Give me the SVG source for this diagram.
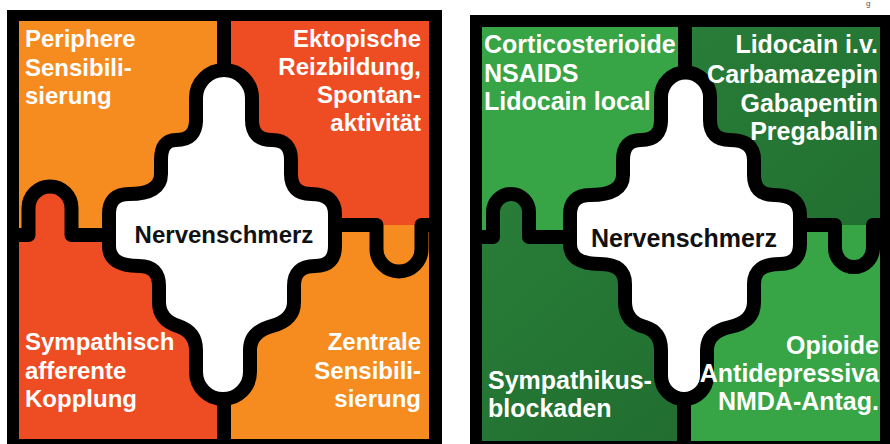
<svg xmlns="http://www.w3.org/2000/svg" width="890" height="444" viewBox="0 0 890 444">
  <style>
    .frame{fill:#000}
    .orange{fill:#F68B1F}
    .red{fill:#EE4C23}
    .lg{fill:#37A546}
    .dg{fill:url(#dgGrad)}
    .line{fill:none;stroke:#000;stroke-width:14;stroke-linejoin:round;stroke-linecap:butt}
    .core{fill:#fff;stroke:#000;stroke-width:14;stroke-linejoin:round}
    .t{font-family:"Liberation Sans",Arial,Helvetica,sans-serif;font-weight:bold;fill:#fff}
    .s24{font-size:24px}
    .s25{font-size:25px}
    .e{text-anchor:end}
    .c{fill:#111;text-anchor:middle}
  </style>
  <defs>
    <linearGradient id="dgGrad" gradientUnits="userSpaceOnUse" x1="560" y1="60" x2="880" y2="430">
      <stop offset="0" stop-color="#2A8039"/>
      <stop offset="1" stop-color="#1E682D"/>
    </linearGradient>
  </defs>
  <rect width="890" height="444" fill="#fff"/>
  <text x="866" y="6" font-family="Liberation Sans, Arial, sans-serif" font-size="8" fill="#555">g</text>

  <!-- LEFT PUZZLE -->
  <g id="left-puzzle">
    <rect class="frame" x="7" y="10" width="435" height="434"/>
    <g id="l-tl"><rect class="orange" x="19" y="21" width="205" height="214"/></g>
    <g id="l-bl"><rect class="red" x="19" y="235" width="205" height="204"/>
      <path class="red" d="M28.5 236 L28.5 208 A21.5 21.5 0 0 1 71.5 208 L71.5 236 Z"/></g>
    <g id="l-tr"><rect class="red" x="224" y="21" width="205" height="204"/>
      <path class="red" d="M376.5 224 L376.5 249 A22.5 22.5 0 0 0 421.5 249 L421.5 224 Z"/></g>
    <g id="l-br"><rect class="orange" x="224" y="225" width="205" height="214"/></g>
    <g id="l-borders">
      <path class="line" d="M224 15 L224 72"/>
      <path class="line" d="M224 396 L224 444"/>
      <path class="line" d="M19 235 L28.5 235 L28.5 208 A21.5 21.5 0 0 1 71.5 208 L71.5 235 L112 235"/>
      <path class="line" d="M332 225 L376.5 225 L376.5 249 A22.5 22.5 0 0 0 421.5 249 L421.5 225 L429 225"/>
    </g>
    <g id="l-center">
      <path class="core" d="M196 122 L196 98 A28 28 0 0 1 252 98 L252 120 Q252 140 272 140 Q291 140 291 160 L291 174 Q291 194 311 194 Q335 194 335 214 L335 246 Q335 266 315 266 Q294 266 294 286 L294 302 Q294 320 272 326 Q250 332 250 350 L250 372 A27 27 0 0 1 196 372 L196 350 Q196 332 178 326 Q159 320 159 302 L159 286 Q159 266 139 266 Q109 266 109 246 L109 214 Q109 194 129 194 Q161 194 161 174 L161 160 Q161 140 176 140 Q196 140 196 120 Z"/>
      <text class="t c s24" x="224" y="243">Nervenschmerz</text>
    </g>
    <g id="l-texts" class="t s24">
      <text x="25" y="47">Periphere</text>
      <text x="25" y="75.5">Sensibili-</text>
      <text x="25" y="104">sierung</text>
      <text class="e" x="421" y="47">Ektopische</text>
      <text class="e" x="421" y="75">Reizbildung,</text>
      <text class="e" x="421" y="103">Spontan-</text>
      <text class="e" x="421" y="131">aktivität</text>
      <text x="25" y="350">Sympathisch</text>
      <text x="25" y="379">afferente</text>
      <text x="25" y="407">Kopplung</text>
      <text class="e" x="421" y="350">Zentrale</text>
      <text class="e" x="421" y="379">Sensibili-</text>
      <text class="e" x="421" y="407">sierung</text>
    </g>
  </g>

  <!-- RIGHT PUZZLE -->
  <g id="right-puzzle">
    <rect class="frame" x="470" y="15" width="420" height="429"/>
    <g id="r-tl"><rect class="lg" x="482" y="27" width="203" height="210"/></g>
    <g id="r-bl"><rect class="dg" x="482" y="237" width="203" height="204"/>
      <path class="dg" d="M493 238 L493 212 A18 18 0 0 1 529 212 L529 238 Z"/></g>
    <g id="r-tr"><rect class="dg" x="685" y="27" width="195" height="198"/>
      <path class="dg" d="M835 224 L835 248 A19 19 0 0 0 873 248 L873 224 Z"/></g>
    <g id="r-br"><rect class="lg" x="685" y="225" width="195" height="216"/></g>
    <g id="r-borders">
      <path class="line" d="M685 20 L685 75"/>
      <path class="line" d="M684 396 L684 444"/>
      <path class="line" d="M482 237 L493 237 L493 212 A18 18 0 0 1 529 212 L529 237 L573 237"/>
      <path class="line" d="M797 225 L835 225 L835 248 A19 19 0 0 0 873 248 L873 225 L880 225"/>
    </g>
    <g id="r-center">
      <path class="core" d="M661 122 L661 97 A24.5 24.5 0 0 1 710 97 L710 120 Q710 140 730 140 Q754 140 754 160 L754 175 Q754 195 774 195 Q800 195 800 215 L800 244 Q800 264 780 264 Q754 264 754 284 L754 302 Q754 322 730 327 Q707 332 707 350 L707 376 A23 23 0 0 1 661 376 L661 350 Q661 332 645 327 Q625 322 625 302 L625 284 Q625 264 600 264 Q570 264 570 244 L570 215 Q570 195 590 195 Q623 195 623 175 L623 160 Q623 140 641 140 Q661 140 661 120 Z"/>
      <text class="t c s25" x="684" y="247">Nervenschmerz</text>
    </g>
    <g id="r-texts" class="t s25">
      <text x="484" y="53">Corticosterioide</text>
      <text x="484" y="82">NSAIDS</text>
      <text x="484" y="110">Lidocain local</text>
      <text class="e" x="878" y="53">Lidocain i.v.</text>
      <text class="e" x="878" y="83">Carbamazepin</text>
      <text class="e" x="878" y="112">Gabapentin</text>
      <text class="e" x="878" y="140">Pregabalin</text>
      <text x="488" y="389">Sympathikus-</text>
      <text x="488" y="417">blockaden</text>
      <text class="e" x="879" y="354">Opioide</text>
      <text class="e" x="879" y="382">Antidepressiva</text>
      <text class="e" x="879" y="410">NMDA-Antag.</text>
    </g>
  </g>
</svg>
